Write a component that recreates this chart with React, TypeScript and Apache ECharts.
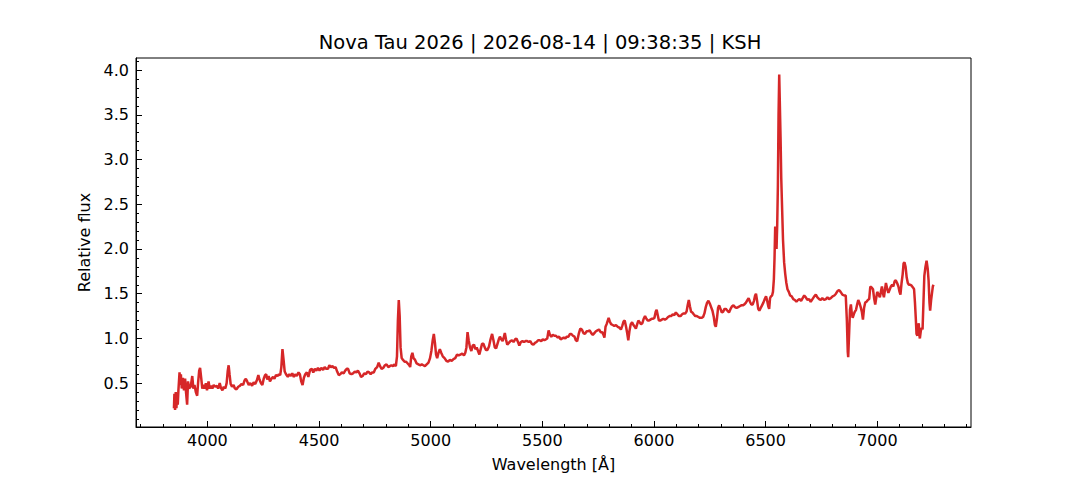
import React, { useEffect, useRef } from "react";
import * as echarts from "echarts";

const wavelength: number[] = [
  3850, 3852, 3855, 3858, 3861, 3864, 3867, 3870, 3875, 3878, 3881, 3885, 3890, 3895, 3900, 3904, 3909, 3913, 3918, 3925,
  3932, 3937, 3942, 3948, 3954, 3958, 3963, 3967, 3972, 3977, 3982, 3988, 3993, 3998, 4005, 4010, 4016, 4022, 4028, 4035,
  4042, 4048, 4055, 4060, 4067, 4073, 4080, 4086, 4091, 4095, 4099, 4104, 4110, 4117, 4123, 4130, 4138, 4145, 4152, 4160,
  4166, 4172, 4178, 4185, 4192, 4200, 4207, 4214, 4221, 4228, 4233, 4240, 4246, 4252, 4258, 4263, 4268, 4274, 4280, 4287,
  4294, 4300, 4307, 4314, 4320, 4326, 4331, 4336, 4341, 4346, 4352, 4360, 4367, 4374, 4380, 4387, 4393, 4400, 4408, 4414,
  4420, 4426, 4432, 4438, 4445, 4452, 4460, 4467, 4474, 4481, 4488, 4495, 4502, 4510, 4518, 4525, 4532, 4540, 4546, 4553,
  4560, 4567, 4574, 4581, 4588, 4595, 4602, 4610, 4617, 4624, 4630, 4637, 4645, 4652, 4660, 4667, 4674, 4681, 4688, 4695,
  4702, 4710, 4717, 4724, 4731, 4738, 4745, 4752, 4760, 4767, 4773, 4780, 4787, 4795, 4802, 4810, 4817, 4824, 4831, 4838,
  4844, 4849, 4853, 4857, 4861, 4865, 4870, 4876, 4883, 4890, 4897, 4904, 4908, 4913, 4918, 4923, 4930, 4937, 4945, 4952,
  4960, 4967, 4974, 4982, 4990, 4997, 5003, 5009, 5014, 5019, 5024, 5029, 5035, 5041, 5047, 5054, 5062, 5070, 5078, 5086,
  5094, 5102, 5110, 5118, 5125, 5133, 5141, 5149, 5155, 5160, 5165, 5170, 5176, 5182, 5188, 5194, 5200, 5206, 5212, 5218,
  5224, 5230, 5236, 5242, 5248, 5254, 5261, 5268, 5275, 5281, 5287, 5293, 5299, 5305, 5310, 5316, 5322, 5328, 5332, 5337,
  5343, 5350, 5357, 5364, 5371, 5378, 5384, 5391, 5397, 5404, 5411, 5418, 5425, 5432, 5439, 5446, 5453, 5460, 5467, 5474,
  5481, 5488, 5495, 5502, 5509, 5516, 5522, 5528, 5534, 5540, 5547, 5554, 5561, 5568, 5575, 5582, 5589, 5596, 5603, 5610,
  5617, 5624, 5630, 5637, 5644, 5650, 5656, 5663, 5670, 5677, 5684, 5691, 5698, 5705, 5712, 5719, 5726, 5733, 5740, 5747,
  5754, 5761, 5768, 5774, 5778, 5783, 5788, 5793, 5797, 5802, 5808, 5815, 5822, 5830, 5838, 5845, 5852, 5858, 5864, 5869,
  5875, 5880, 5885, 5890, 5896, 5902, 5908, 5914, 5919, 5925, 5930, 5936, 5942, 5948, 5954, 5960, 5966, 5972, 5978, 5984,
  5990, 5996, 6002, 6008, 6012, 6017, 6022, 6028, 6035, 6042, 6049, 6056, 6063, 6070, 6077, 6084, 6091, 6098, 6105, 6112,
  6119, 6126, 6133, 6140, 6146, 6151, 6156, 6161, 6166, 6172, 6178, 6185, 6192, 6199, 6206, 6213, 6220, 6226, 6232, 6238,
  6244, 6250, 6256, 6262, 6268, 6273, 6277, 6282, 6287, 6292, 6298, 6304, 6310, 6316, 6322, 6329, 6336, 6343, 6350, 6356,
  6363, 6370, 6377, 6384, 6391, 6398, 6405, 6412, 6419, 6424, 6430, 6436, 6442, 6448, 6453, 6457, 6462, 6467, 6472, 6478,
  6484, 6490, 6496, 6502, 6507, 6512, 6516, 6520, 6524, 6529, 6533, 6537, 6540, 6543, 6546, 6549, 6552, 6555, 6558, 6561,
  6564, 6567, 6570, 6574, 6578, 6583, 6588, 6593, 6598, 6604, 6610, 6617, 6624, 6631, 6638, 6645, 6652, 6659, 6666, 6673,
  6680, 6687, 6695, 6702, 6710, 6718, 6725, 6732, 6740, 6747, 6754, 6762, 6770, 6777, 6784, 6792, 6800, 6808, 6815, 6822,
  6829, 6836, 6844, 6852, 6859, 6864, 6868, 6870, 6874, 6878, 6882, 6886, 6890, 6895, 6900, 6905, 6910, 6915, 6920, 6926,
  6931, 6936, 6941, 6946, 6952, 6958, 6964, 6969, 6975, 6981, 6986, 6991, 6996, 7000, 7006, 7012, 7017, 7021, 7026, 7030,
  7035, 7039, 7045, 7050, 7055, 7061, 7067, 7072, 7078, 7083, 7089, 7095, 7100, 7104, 7109, 7114, 7118, 7122, 7127, 7132,
  7137, 7142, 7148, 7154, 7160, 7165, 7169, 7173, 7176, 7180, 7183, 7186, 7188, 7191, 7195, 7199, 7203, 7207, 7211, 7216,
  7221, 7226, 7230, 7234, 7237, 7241, 7245, 7249, 7252,
];

const flux: number[] = [
  0.22, 0.38, 0.2, 0.4, 0.22, 0.36, 0.26, 0.42, 0.62, 0.48, 0.6, 0.44, 0.56, 0.42, 0.55, 0.4, 0.26, 0.52, 0.44, 0.46,
  0.58, 0.44, 0.48, 0.4, 0.36, 0.5, 0.64, 0.67, 0.56, 0.44, 0.48, 0.44, 0.5, 0.42, 0.52, 0.44, 0.47, 0.44, 0.48, 0.46,
  0.47, 0.44, 0.5, 0.45, 0.42, 0.46, 0.44, 0.5, 0.64, 0.7, 0.6, 0.49, 0.46, 0.48, 0.44, 0.43, 0.46, 0.47, 0.49, 0.48,
  0.53, 0.55, 0.52, 0.48, 0.5, 0.47, 0.51, 0.49, 0.53, 0.59, 0.54, 0.5, 0.48, 0.55, 0.59, 0.6, 0.54, 0.58, 0.52, 0.55,
  0.57, 0.55, 0.59, 0.58, 0.6, 0.59, 0.68, 0.88, 0.76, 0.63, 0.6, 0.57, 0.6, 0.58, 0.61, 0.57, 0.6, 0.58, 0.62, 0.6,
  0.52, 0.48, 0.56, 0.6, 0.62, 0.57, 0.65, 0.66, 0.62, 0.66, 0.64, 0.67, 0.64, 0.67, 0.65, 0.68, 0.66, 0.66, 0.7, 0.68,
  0.69, 0.67, 0.68, 0.63, 0.59, 0.6, 0.62, 0.61, 0.64, 0.66, 0.66, 0.61, 0.6, 0.61, 0.63, 0.62, 0.64, 0.61, 0.57, 0.58,
  0.61, 0.6, 0.63, 0.62, 0.6, 0.62, 0.62, 0.66, 0.68, 0.73, 0.69, 0.66, 0.67, 0.7, 0.71, 0.68, 0.69, 0.7, 0.69, 0.71,
  0.69, 0.8, 1.2, 1.43, 1.25, 0.9, 0.78, 0.76, 0.74, 0.74, 0.72, 0.7, 0.68, 0.8, 0.84, 0.78, 0.76, 0.72, 0.71, 0.7,
  0.71, 0.7, 0.69, 0.71, 0.73, 0.78, 0.86, 0.98, 1.05, 0.95, 0.82, 0.78, 0.84, 0.88, 0.84, 0.8, 0.78, 0.75, 0.74, 0.76,
  0.75, 0.77, 0.78, 0.82, 0.81, 0.82, 0.83, 0.81, 0.84, 0.9, 1.07, 0.98, 0.9, 0.86, 0.92, 0.93, 0.88, 0.9, 0.86, 0.82,
  0.88, 0.94, 0.94, 0.9, 0.87, 0.87, 0.91, 0.99, 1.05, 0.98, 0.9, 0.89, 0.94, 0.99, 1.02, 0.99, 0.97, 1.02, 1.06, 0.99,
  0.93, 0.95, 0.97, 0.98, 0.96, 0.99, 1.0, 0.96, 0.92, 0.96, 0.97, 0.96, 0.97, 0.97, 0.96, 0.97, 0.94, 0.93, 0.95, 0.96,
  0.98, 0.98, 0.97, 0.99, 0.98, 0.99, 1.0, 1.09, 1.04, 1.02, 1.04, 1.03, 1.03, 1.01, 1.02, 0.99, 1.0, 1.01, 1.0, 1.02,
  1.02, 1.05, 1.05, 1.03, 1.02, 0.98, 0.97, 1.05, 1.11, 1.1, 1.06, 1.05, 1.08, 1.08, 1.09, 1.06, 1.04, 1.06, 1.08, 1.09,
  1.1, 1.07, 1.07, 1.04, 1.01, 1.13, 1.16, 1.2, 1.23, 1.19, 1.16, 1.15, 1.14, 1.15, 1.13, 1.12, 1.1, 1.14, 1.19, 1.2,
  1.13, 1.06, 0.98, 1.08, 1.16, 1.18, 1.15, 1.13, 1.11, 1.16, 1.2, 1.18, 1.16, 1.17, 1.22, 1.25, 1.22, 1.2, 1.2, 1.21,
  1.22, 1.22, 1.23, 1.3, 1.32, 1.26, 1.2, 1.2, 1.21, 1.22, 1.21, 1.22, 1.24, 1.25, 1.25, 1.27, 1.26, 1.29, 1.27, 1.25,
  1.25, 1.27, 1.28, 1.28, 1.3, 1.37, 1.43, 1.36, 1.3, 1.29, 1.27, 1.25, 1.25, 1.24, 1.23, 1.23, 1.24, 1.28, 1.35, 1.4,
  1.42, 1.39, 1.35, 1.31, 1.24, 1.15, 1.13, 1.22, 1.34, 1.37, 1.33, 1.29, 1.3, 1.33, 1.33, 1.31, 1.29, 1.33, 1.36, 1.37,
  1.35, 1.34, 1.35, 1.36, 1.37, 1.37, 1.38, 1.4, 1.43, 1.45, 1.41, 1.38, 1.38, 1.42, 1.48, 1.5, 1.42, 1.33, 1.31, 1.34,
  1.37, 1.4, 1.44, 1.47, 1.42, 1.36, 1.33, 1.45, 1.47, 1.48, 1.52, 1.66, 1.9, 2.25, 2.1, 2.0, 2.27, 2.7, 3.5, 3.95,
  3.6, 3.25, 2.8, 2.45, 2.1, 1.85, 1.72, 1.62, 1.55, 1.52, 1.48, 1.47, 1.44, 1.43, 1.41, 1.43, 1.44, 1.42, 1.45, 1.48,
  1.46, 1.43, 1.44, 1.41, 1.44, 1.47, 1.49, 1.46, 1.44, 1.43, 1.45, 1.43, 1.44, 1.46, 1.44, 1.45, 1.47, 1.48, 1.5, 1.53,
  1.54, 1.52, 1.49, 1.48, 1.48, 1.2, 0.85, 0.79, 1.05, 1.32, 1.38, 1.28, 1.23, 1.27, 1.3, 1.32, 1.38, 1.43, 1.4, 1.35,
  1.3, 1.21, 1.34, 1.4, 1.41, 1.43, 1.44, 1.58, 1.57, 1.55, 1.45, 1.38, 1.46, 1.52, 1.49, 1.46, 1.53, 1.58, 1.5, 1.46,
  1.55, 1.62, 1.55, 1.51, 1.54, 1.58, 1.6, 1.58, 1.64, 1.65, 1.62, 1.58, 1.52, 1.49, 1.62, 1.72, 1.84, 1.85, 1.8, 1.68,
  1.62, 1.6, 1.6, 1.59, 1.57, 1.55, 1.4, 1.21, 1.05, 1.03, 1.12, 1.17, 1.05, 1.0, 1.08, 1.12, 1.1, 1.4, 1.7, 1.8,
  1.87, 1.78, 1.65, 1.4, 1.31, 1.42, 1.5, 1.58, 1.6,
];

const xMajorTicks: number[] = [4000, 4500, 5000, 5500, 6000, 6500, 7000];
const xMinorTicks: number[] = [
  3700, 3800, 3900, 4100, 4200, 4300, 4400, 4600, 4700, 4800, 4900, 5100, 5200, 5300, 5400, 5600, 5700, 5800, 5900,
  6100, 6200, 6300, 6400, 6600, 6700, 6800, 6900, 7100, 7200, 7300, 7400,
];
const yMajorTicks: number[] = [0.5, 1.0, 1.5, 2.0, 2.5, 3.0, 3.5, 4.0];
const yMinorTicks: number[] = [
  0.1, 0.2, 0.3, 0.4, 0.6, 0.7, 0.8, 0.9, 1.1, 1.2, 1.3, 1.4, 1.6, 1.7, 1.8, 1.9, 2.1, 2.2, 2.3, 2.4, 2.6, 2.7, 2.8,
  2.9, 3.1, 3.2, 3.3, 3.4, 3.6, 3.7, 3.8, 3.9, 4.1,
];

const titleText = "Nova Tau 2026 | 2026-08-14 | 09:38:35 | KSH";
const xName = "Wavelength [Å]";
const yName = "Relative flux";

const X_MIN = 3680;
const X_MAX = 7420;
const Y_MIN = 0.01;
const Y_MAX = 4.135;

const FONT = "DejaVu Sans";

export default function App() {
  const ref = useRef<HTMLDivElement>(null);

  useEffect(() => {
    if (!ref.current) return;
    const chart = echarts.init(ref.current, undefined, { renderer: "svg" });
    const data = wavelength.map((w, i) => [w, flux[i]]);

    const minorAxisCommon = {
      axisLine: { show: false },
      axisLabel: { show: false },
      splitLine: { show: false },
    };

    chart.setOption({
      animation: false,
      backgroundColor: "#ffffff",
      textStyle: { fontFamily: FONT, color: "#000" },
      title: {
        text: titleText,
        left: "center",
        top: 27,
        textStyle: { fontFamily: FONT, fontSize: 19.5, fontWeight: "normal", color: "#000" },
      },
      grid: {
        left: 136,
        right: 109,
        top: 58,
        bottom: 53,
        show: true,
        borderColor: "#000",
        borderWidth: 1,
        backgroundColor: "transparent",
      },
      xAxis: [
        {
          type: "value",
          min: X_MIN,
          max: X_MAX,
          name: xName,
          nameLocation: "middle",
          nameGap: 29,
          nameTextStyle: { fontFamily: FONT, fontSize: 16, color: "#000" },
          axisLine: { show: true, onZero: false, lineStyle: { color: "#000", width: 1 } },
          axisTick: {
            show: true,
            inside: true,
            length: 6,
            customValues: xMajorTicks,
            lineStyle: { color: "#000", width: 1 },
          },
          axisLabel: {
            show: true,
            customValues: xMajorTicks,
            margin: 5,
            fontFamily: FONT,
            fontSize: 16,
            color: "#000",
            formatter: (v: number) => String(v),
          },
          splitLine: { show: false },
        },
        {
          type: "value",
          min: X_MIN,
          max: X_MAX,
          position: "bottom",
          ...minorAxisCommon,
          axisTick: {
            show: true,
            inside: true,
            length: 3,
            customValues: xMinorTicks,
            lineStyle: { color: "#000", width: 1 },
          },
        },
      ],
      yAxis: [
        {
          type: "value",
          min: Y_MIN,
          max: Y_MAX,
          name: yName,
          nameLocation: "middle",
          nameGap: 38,
          nameRotate: 90,
          nameTextStyle: { fontFamily: FONT, fontSize: 16, color: "#000" },
          axisLine: { show: true, onZero: false, lineStyle: { color: "#000", width: 1 } },
          axisTick: {
            show: true,
            inside: true,
            length: 6,
            customValues: yMajorTicks,
            lineStyle: { color: "#000", width: 1 },
          },
          axisLabel: {
            show: true,
            customValues: yMajorTicks,
            margin: 7,
            fontFamily: FONT,
            fontSize: 16,
            color: "#000",
            formatter: (v: number) => v.toFixed(1),
          },
          splitLine: { show: false },
        },
        {
          type: "value",
          min: Y_MIN,
          max: Y_MAX,
          position: "left",
          ...minorAxisCommon,
          axisTick: {
            show: true,
            inside: true,
            length: 3,
            customValues: yMinorTicks,
            lineStyle: { color: "#000", width: 1 },
          },
        },
      ],
      series: [
        {
          type: "line",
          xAxisIndex: 0,
          yAxisIndex: 0,
          data,
          showSymbol: false,
          symbol: "none",
          lineStyle: { color: "#d62728", width: 2.5 },
          itemStyle: { color: "#d62728" },
          emphasis: { disabled: true },
        },
      ],
    });

    return () => {
      chart.dispose();
    };
  }, []);

  return (
    <div
      ref={ref}
      style={{ position: "fixed", left: 0, top: 0, width: 1080, height: 480 }}
    />
  );
}
